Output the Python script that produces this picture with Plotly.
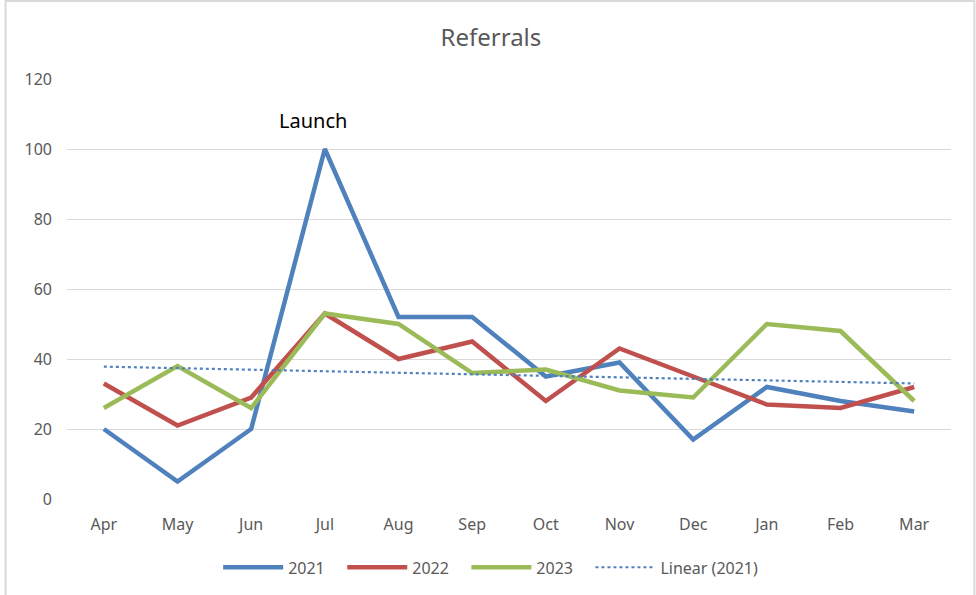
import numpy as np
import plotly.graph_objects as go

months = ["Apr", "May", "Jun", "Jul", "Aug", "Sep", "Oct", "Nov", "Dec", "Jan", "Feb", "Mar"]
y2021 = [20, 5, 20, 100, 52, 52, 35, 39, 17, 32, 28, 25]
y2022 = [33, 21, 29, 53, 40, 45, 28, 43, 35, 27, 26, 32]
y2023 = [26, 38, 26, 53, 50, 36, 37, 31, 29, 50, 48, 28]
y_ticks = [0, 20, 40, 60, 80, 100, 120]

# linear trendline of 2021 (least squares)
xi = np.arange(1, len(months) + 1)
slope, intercept = np.polyfit(xi, np.array(y2021, dtype=float), 1)
trend = (slope * xi + intercept).tolist()

FONT = "Noto Sans"
GREY = "#595959"
PAD = "\u00a0" * 3

fig = go.Figure()
fig.add_trace(go.Scatter(x=months, y=y2021, name="2021" + PAD, mode="lines",
                         line=dict(color="#4F81BD", width=4.5)))
fig.add_trace(go.Scatter(x=months, y=y2022, name="2022" + PAD, mode="lines",
                         line=dict(color="#C0504D", width=4.5)))
fig.add_trace(go.Scatter(x=months, y=y2023, name="2023" + PAD, mode="lines",
                         line=dict(color="#9BBB59", width=4.5)))
fig.add_trace(go.Scatter(x=months, y=trend, name="Linear (2021)", mode="lines",
                         line=dict(color="#4F81BD", width=2.2, dash="dot")))

fig.add_annotation(x="Jul", y=100, text="Launch", showarrow=False,
                   yanchor="bottom", yshift=13, xshift=-12,
                   font=dict(family=FONT, size=20, color="#000000"))

# chart frame
fig.add_shape(type="rect", xref="paper", yref="paper",
              x0=-0.0695, x1=1.0265, y0=-0.35, y1=1.186,
              line=dict(color="#d9d9d9", width=2), layer="below")

fig.update_layout(
    width=976, height=595,
    margin=dict(l=67, r=25, t=79, b=95),
    paper_bgcolor="white", plot_bgcolor="white",
    title=dict(text="Referrals", x=0.503, xanchor="center", y=0.937, yanchor="middle",
               font=dict(family=FONT, size=24, color=GREY)),
    font=dict(family=FONT, size=16, color=GREY),
    showlegend=True,
    legend=dict(orientation="h", x=0.171, xanchor="left", y=-0.16, yanchor="middle",
                font=dict(family=FONT, size=16, color=GREY), itemwidth=60,
                traceorder="normal"),
)
fig.update_xaxes(type="category", range=[-0.5, 11.5], showgrid=False, showline=False,
                 ticks="", ticklabelstandoff=14, tickfont=dict(size=16, color=GREY))
fig.update_yaxes(range=[0, 120], tickvals=y_ticks, showgrid=True, gridcolor="#d9d9d9",
                 gridwidth=1, zeroline=False, showline=False, ticks="",
                 ticklabelstandoff=14, tickfont=dict(size=16, color=GREY))

fig.write_html("out.html", post_script="document.body.style.margin='0';",
               config={"displayModeBar": False})
